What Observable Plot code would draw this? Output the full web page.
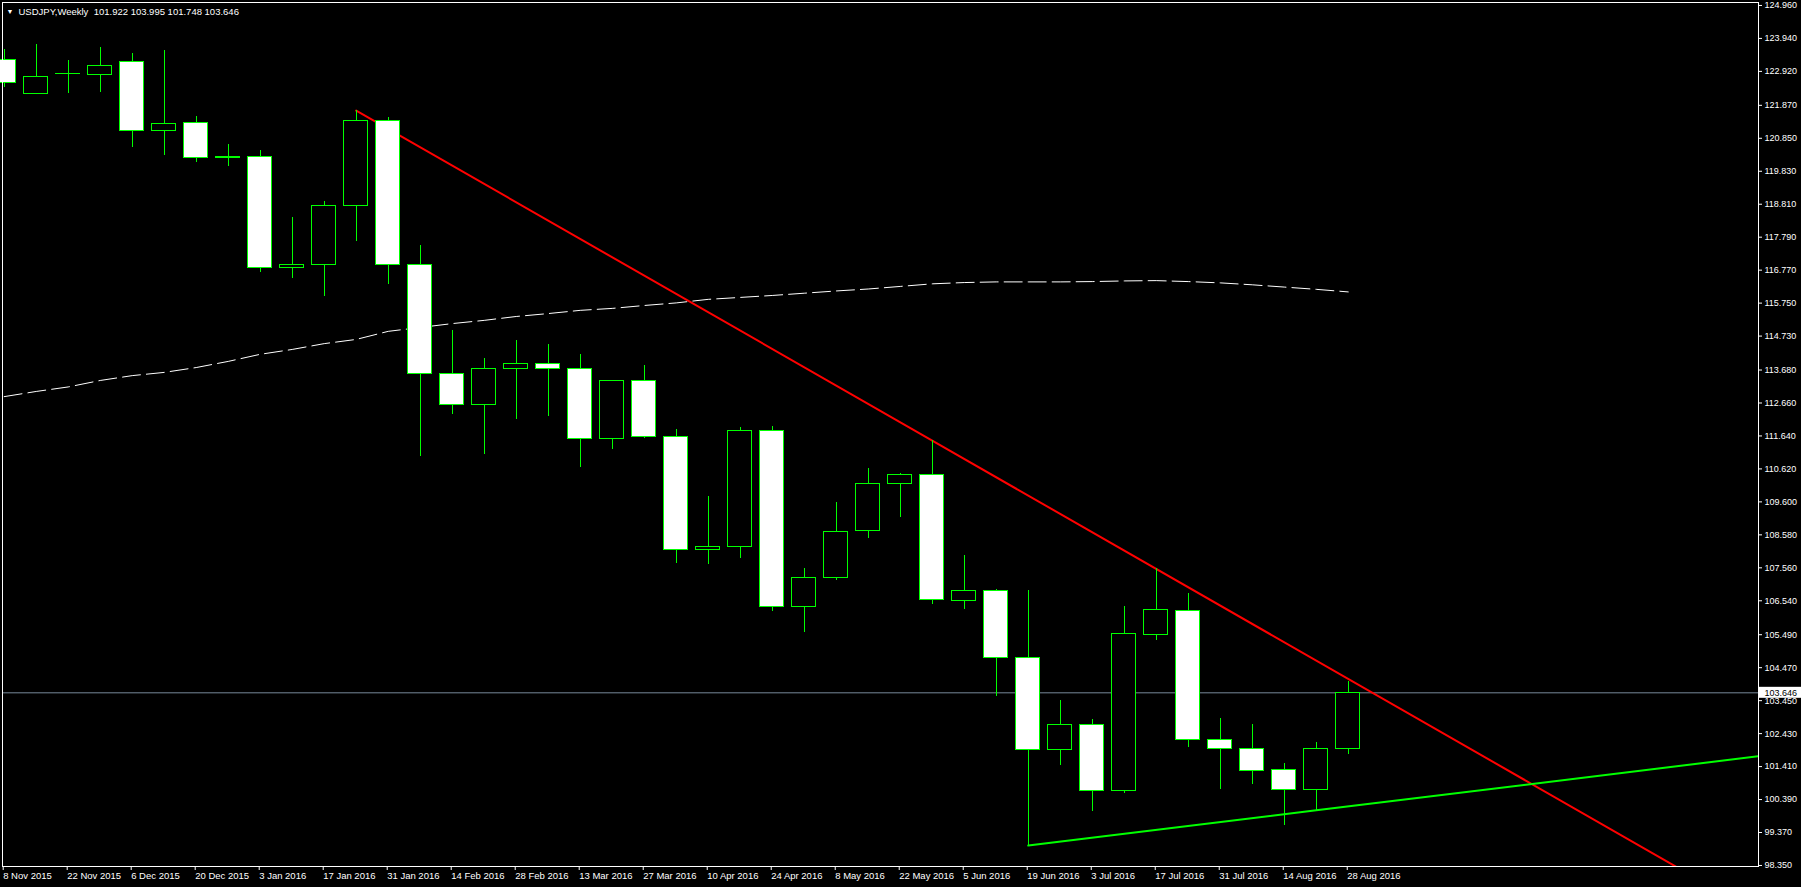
<!DOCTYPE html>
<html><head><meta charset="utf-8">
<script src="https://cdn.jsdelivr.net/npm/d3@7"></script>
<script src="https://cdn.jsdelivr.net/npm/@observablehq/plot@0.6"></script>
<style>
html,body{margin:0;padding:0;background:#000;overflow:hidden;}
#chart{width:1801px;height:887px;}
#chart svg{overflow:visible;}
</style></head><body><div id="chart"></div>
<script>
const symbol = "USDJPY,Weekly";
const weeks = ["2015-11-08","2015-11-15","2015-11-22","2015-11-29","2015-12-06","2015-12-13","2015-12-20","2015-12-27",
  "2016-01-03","2016-01-10","2016-01-17","2016-01-24","2016-01-31","2016-02-07","2016-02-14","2016-02-21","2016-02-28",
  "2016-03-06","2016-03-13","2016-03-20","2016-03-27","2016-04-03","2016-04-10","2016-04-17","2016-04-24","2016-05-01",
  "2016-05-08","2016-05-15","2016-05-22","2016-05-29","2016-06-05","2016-06-12","2016-06-19","2016-06-26","2016-07-03",
  "2016-07-10","2016-07-17","2016-07-24","2016-07-31","2016-08-07","2016-08-14","2016-08-21","2016-08-28"];
const open  = [123.23,122.17,122.78,122.76,123.17,121.02,121.28,120.20,120.23,116.80,116.89,118.72,121.35,116.89,113.52,112.56,113.67,113.81,113.67,111.51,113.30,111.57,108.07,108.16,111.75,106.31,107.21,108.66,110.11,110.39,106.49,106.80,104.73,101.88,102.66,100.62,105.44,106.18,102.19,101.91,101.26,100.65,101.922];
const high  = [123.55,123.71,123.21,123.61,123.43,123.52,121.48,120.61,120.43,118.35,118.85,121.66,121.45,117.49,114.86,113.98,114.55,114.42,114.11,113.30,113.76,111.79,109.72,111.86,111.89,107.49,109.53,110.59,110.43,111.45,107.90,106.84,106.81,103.41,102.82,106.32,107.48,106.72,102.85,102.67,101.47,102.12,103.995];
const low   = [122.38,122.16,122.20,122.23,120.53,120.28,120.06,119.94,116.66,116.48,115.92,117.62,116.27,110.96,112.27,111.01,112.11,112.20,110.63,111.17,111.52,107.66,107.63,107.81,106.17,105.52,107.13,108.43,109.08,106.37,106.23,103.54,98.92,101.41,99.98,100.54,105.27,101.96,100.66,100.82,99.54,100.01,101.748];
const close = [122.52,122.71,122.80,123.05,121.04,121.25,120.20,120.22,116.80,116.89,118.72,121.35,116.89,113.52,112.56,113.67,113.81,113.67,111.51,113.30,111.57,108.07,108.17,111.75,106.31,107.21,108.63,110.11,110.39,106.52,106.80,104.73,101.88,102.66,100.62,105.47,106.22,102.19,101.91,101.23,100.65,101.91,103.646];
const movingAverage = [112.81,112.97,113.11,113.31,113.46,113.56,113.71,113.90,114.12,114.27,114.45,114.58,114.83,114.95,115.07,115.17,115.29,115.38,115.48,115.54,115.63,115.71,115.82,115.88,115.94,116.01,116.08,116.14,116.22,116.30,116.34,116.36,116.36,116.36,116.37,116.39,116.40,116.37,116.33,116.27,116.20,116.13,116.05];
const yTicks = [124.960,123.940,122.920,121.870,120.850,119.830,118.810,117.790,116.770,115.750,114.730,113.680,112.660,111.640,110.620,109.600,108.580,107.560,106.540,105.490,104.470,103.450,102.430,101.410,100.390,99.370,98.350];
const resistanceAnchors = [{week:"2016-01-24", price:121.66},{week:"2016-05-29", price:111.45}];
const supportAnchors = [{week:"2016-06-19", price:98.92},{week:"2016-08-21", price:100.01}];

const candles = weeks.map((w,i)=>({i, week:w, open:open[i], high:high[i], low:low[i], close:close[i], ma:movingAverage[i]}));
const last = candles[candles.length-1];
const currentPrice = last.close;

const xDomain = [-0.053, 54.82];
const yDomain = [98.272, 125.005];

function ray(anchors){
  const a = {i: weeks.indexOf(anchors[0].week), price: anchors[0].price};
  const b = {i: weeks.indexOf(anchors[1].week), price: anchors[1].price};
  const slope = (b.price - a.price)/(b.i - a.i);
  const end = xDomain[1];
  return [a, b, {i:end, price: a.price + slope*(end - a.i)}];
}
const fmt = d3.utcFormat("%-d %b %Y");
const tickIdx = weeks.map((w,i)=>i).filter(i=>i%2===0);
const header = `${symbol}\u00a0\u00a0${last.open.toFixed(3)} ${last.high.toFixed(3)} ${last.low.toFixed(3)} ${last.close.toFixed(3)}`;

const chart = Plot.plot({
  width:1801, height:887,
  marginTop:2, marginLeft:2, marginRight:43, marginBottom:21,
  style:{background:"black", color:"white", fontFamily:"'Liberation Sans', Arial, sans-serif", fontSize:"9px", overflow:"visible"},
  x:{type:"linear", domain:xDomain, axis:null},
  y:{type:"linear", domain:yDomain, axis:null},
  marks:[
    Plot.ruleY([currentPrice], {stroke:"#778899", strokeWidth:1}),
    Plot.line(candles, {x:"i", y:"ma", stroke:"white", strokeWidth:1, strokeDasharray:"18,6"}),
    Plot.line(ray(resistanceAnchors), {x:"i", y:"price", stroke:"#ff0000", strokeWidth:2, clip:true}),
    Plot.line(ray(supportAnchors), {x:"i", y:"price", stroke:"#00ff00", strokeWidth:2, clip:true}),
    Plot.ruleX(candles, {x:"i", y1:"low", y2:"high", stroke:"#00ff00", strokeWidth:1, shapeRendering:"crispEdges"}),
    Plot.rect(candles, {x1:d=>d.i-0.38, x2:d=>d.i+0.38, y1:"open", y2:"close", inset:0,
      fill:d=>d.close>=d.open?"black":"white", stroke:"#00ff00", strokeWidth:1, shapeRendering:"crispEdges"}),
    Plot.frame({stroke:"white", strokeWidth:1, shapeRendering:"crispEdges"}),
    Plot.axisY({anchor:"right", ticks:yTicks, tickFormat:d=>d.toFixed(3), tickSize:3, tickPadding:3, dy:1.5, fontSize:9, label:null, stroke:"white"}),
    Plot.axisX({anchor:"bottom", ticks:tickIdx, tickFormat:i=>fmt(new Date(weeks[i])), tickSize:4, tickPadding:2, textAnchor:"start", dx:-1, fontSize:9.5, label:null, stroke:"white"}),
    Plot.text([currentPrice], {y:d=>d, frameAnchor:"right", dx:6, textAnchor:"start", fill:"#000001", fontSize:9, text:d=>d.toFixed(3)}),
    Plot.text([header], {frameAnchor:"top-left", dx:16, dy:9, lineAnchor:"middle", textAnchor:"start", fill:"white", fontSize:9.5}),
    Plot.text(["\u25BC"], {frameAnchor:"top-left", dx:7.5, dy:9, lineAnchor:"middle", textAnchor:"middle", fill:"white", fontSize:7})
  ]
});
document.getElementById("chart").append(chart);
// white background box behind the current price tag
const tagText = currentPrice.toFixed(3);
const tag = Array.from(chart.querySelectorAll("text")).find(t => t.textContent.trim() === tagText);
const yPos = chart.scale("y").apply(currentPrice);
const r = document.createElementNS("http://www.w3.org/2000/svg","rect");
r.setAttribute("x", 1759); r.setAttribute("width", 42);
r.setAttribute("y", yPos - 5.5); r.setAttribute("height", 11);
r.setAttribute("fill","white");
if (tag) {
  let g = tag; while (g.parentNode && g.parentNode !== chart) g = g.parentNode;
  chart.insertBefore(r, g);
} else {
  chart.appendChild(r);
  const t = document.createElementNS("http://www.w3.org/2000/svg","text");
  t.setAttribute("x", 1764); t.setAttribute("y", yPos); t.setAttribute("dy","0.32em");
  t.setAttribute("font-size", 9); t.setAttribute("fill","black"); t.textContent = tagText;
  chart.appendChild(t);
}
</script></body></html>
